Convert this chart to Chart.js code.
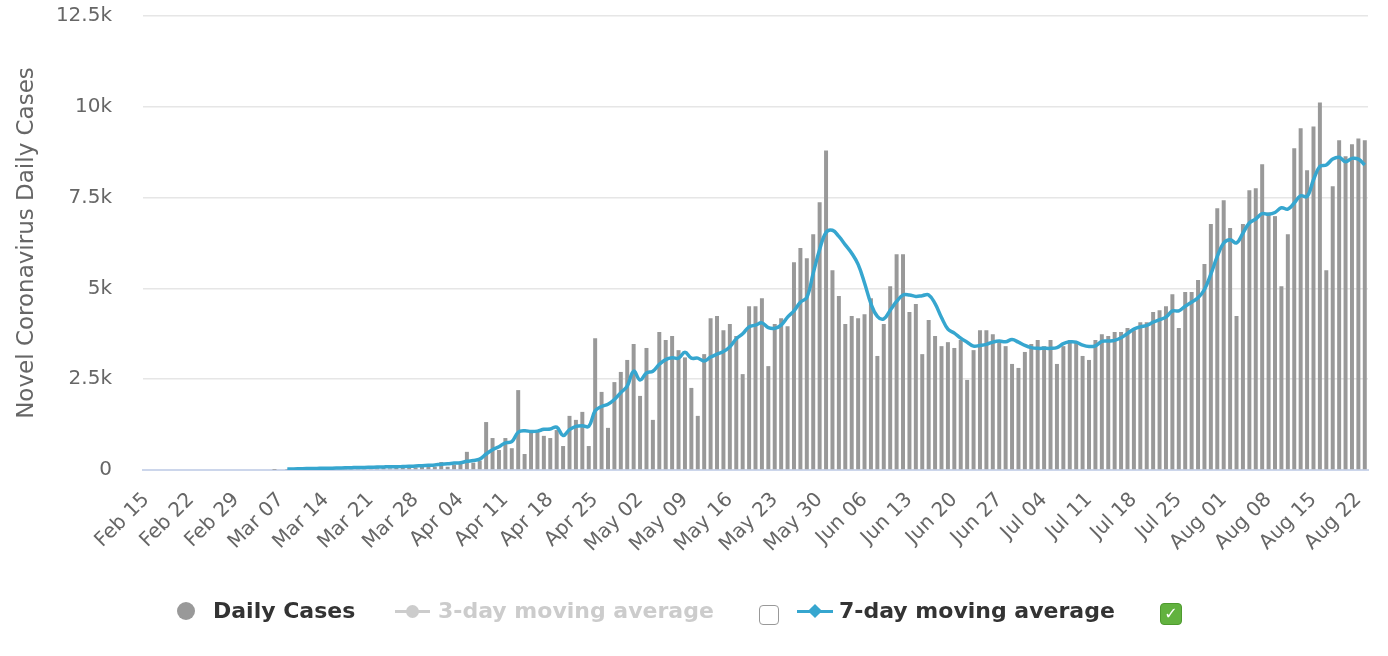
<!DOCTYPE html>
<html>
<head>
<meta charset="utf-8">
<script src="https://cdn.jsdelivr.net/npm/chart.js@4.4.1/dist/chart.umd.min.js"></script>
<style>
  body { margin: 0; background: #fff; }
  #wrap { position: relative; width: 1388px; height: 656px; }
  #chart { position: absolute; left: 0; top: 0; }
  .lg { position: absolute; font: bold 22px "DejaVu Sans", sans-serif; line-height: 26px; top: 598px; white-space: nowrap; }
  .box { position: absolute; width: 20px; height: 20px; border-radius: 4px; box-sizing: border-box; }
</style>
</head>
<body>
<div id="wrap">
  <canvas id="chart" width="1388" height="656"></canvas>
  <div id="legend"></div>
</div>
<script>
// categories: one bar per day, Feb 15 .. Aug 23
const startMonth = 1, startDay = 15, dayCount = 191;
const monthNames = ['Jan', 'Feb', 'Mar', 'Apr', 'May', 'Jun', 'Jul', 'Aug', 'Sep'];
const monthDays = [31, 29, 31, 30, 31, 30, 31, 31, 30];

// daily new cases
const dailyCases = [
  0, 0, 0, 0, 0, 0, 0, 0, 0, 0,
  0, 0, 0, 0, 0, 0, 0, 0, 0, 0,
  1, 0, 6, 2, 2, 11, 5, 9, 15, 8,
  23, 29, 31, 43, 29, 40, 50, 55, 45, 80,
  90, 65, 70, 100, 120, 90, 220, 90, 150, 180,
  500, 200, 260, 1320, 880, 550, 880, 600, 2200, 440,
  1100, 1100, 940, 880, 1100, 660, 1490, 1380, 1600, 660,
  3630, 2150, 1160, 2420, 2700, 3030, 3470, 2040, 3360, 1380,
  3800, 3580, 3690, 3300, 3100, 2260, 1490, 3190, 4180, 4240,
  3850, 4020, 3690, 2640, 4510, 4510, 4730, 2860, 4020, 4180,
  3960, 5720, 6110, 5830, 6490, 7370, 8800, 5500, 4790, 4020,
  4240, 4180, 4290, 4730, 3140, 4020, 5060, 5940, 5940, 4350,
  4570, 3190, 4130, 3690, 3410, 3520, 3360, 3580, 2480, 3300,
  3850, 3850, 3740, 3520, 3410, 2920, 2810, 3250, 3470, 3580,
  3410, 3580, 2920, 3410, 3580, 3520, 3140, 3030, 3580, 3740,
  3690, 3800, 3800, 3910, 3850, 4070, 4070, 4350, 4400, 4510,
  4840, 3910, 4900, 4900, 5230, 5670, 6770, 7210, 7430, 6660,
  4240, 6770, 7700, 7760, 8420, 7090, 6990, 5060, 6490, 8860,
  9410, 8250, 9460, 10120, 5500, 7810, 9080, 8640, 8970, 9130,
  9080
];

// 7-day moving average (starts Mar 08)
const movingAvg7 = [
  null, null, null, null, null, null, null, null, null, null,
  null, null, null, null, null, null, null, null, null, null,
  null, null, 30, 30, 35, 40, 40, 45, 50, 50,
  55, 60, 65, 70, 70, 75, 80, 85, 90, 90,
  95, 100, 110, 120, 130, 140, 160, 170, 190, 200,
  240, 260, 300, 440, 560, 640, 750, 780, 1040, 1080,
  1060, 1070, 1120, 1130, 1180, 950, 1110, 1200, 1220, 1200,
  1630, 1750, 1810, 1940, 2130, 2310, 2720, 2480, 2670, 2720,
  2910, 3040, 3090, 3080, 3240, 3080, 3080, 3000, 3110, 3190,
  3260, 3390, 3610, 3750, 3940, 3990, 4050, 3920, 3900, 3990,
  4210, 4380, 4620, 4750, 5420, 6070, 6540, 6600, 6430, 6200,
  5970, 5660, 5150, 4580, 4230, 4160, 4400, 4640, 4820, 4820,
  4780, 4800, 4820, 4580, 4200, 3880, 3770, 3630, 3520, 3410,
  3430, 3460, 3520, 3550, 3530, 3590, 3520, 3430, 3370, 3350,
  3350, 3350, 3370, 3480, 3530, 3520, 3440, 3400, 3420, 3540,
  3550, 3570, 3640, 3760, 3880, 3940, 3980, 4070, 4140, 4210,
  4380, 4380, 4510, 4620, 4740, 4970, 5390, 5880, 6250, 6340,
  6250, 6520, 6800, 6910, 7060, 7040, 7090, 7220, 7180, 7350,
  7550, 7530, 7990, 8360, 8400, 8560, 8610, 8490, 8580, 8560,
  8400
];

const yTicks = [0, 2500, 5000, 7500, 10000, 12500];
const yTickLabels = ['0', '2.5k', '5k', '7.5k', '10k', '12.5k'];

const BAR = '#999999';
const BLUE = '#36a6cf';
const FONT = '"DejaVu Sans", sans-serif';

function buildDates() {
  const out = [];
  let m = startMonth, d = startDay;
  for (let i = 0; i < dayCount; i++) {
    out.push(monthNames[m] + ' ' + String(d).padStart(2, '0'));
    d++;
    if (d > monthDays[m]) { d = 1; m++; }
  }
  return out;
}
const dates = buildDates();

new Chart(document.getElementById('chart'), {
  type: 'bar',
  data: {
    labels: dates,
    datasets: [
      {
        type: 'line',
        label: '7-day moving average',
        data: movingAvg7,
        borderColor: BLUE,
        borderWidth: 3.5,
        pointRadius: 0,
        tension: 0.4,
        fill: false,
        order: 0
      },
      {
        type: 'bar',
        label: 'Daily Cases',
        data: dailyCases,
        backgroundColor: BAR,
        barPercentage: 0.62,
        categoryPercentage: 1,
        order: 1
      }
    ]
  },
  options: {
    responsive: false,
    animation: false,
    layout: { padding: { top: 16, right: 20, left: 0, bottom: 0 } },
    plugins: { legend: { display: false }, tooltip: { enabled: false } },
    scales: {
      x: {
        grid: { display: false, drawTicks: false },
        border: { color: '#ccd6eb', width: 2 },
        ticks: {
          autoSkip: false,
          minRotation: 45,
          maxRotation: 45,
          padding: 18,
          color: '#666',
          font: { family: FONT, size: 20 },
          callback: (v, i) => (i % 7 === 0 ? dates[i] : '')
        },
        afterFit: s => {
          s.height = 186;
          s.paddingLeft = 0; s.paddingRight = 0;
        }
      },
      y: {
        min: 0,
        max: 12500,
        afterBuildTicks: s => { s.ticks = yTicks.map(v => ({ value: v })); },
        ticks: {
          padding: 31,
          color: '#666',
          font: { family: FONT, size: 20 },
          callback: v => yTickLabels[yTicks.indexOf(v)]
        },
        grid: { color: '#e6e6e6', lineWidth: 1.5, drawTicks: false },
        border: { display: false },
        title: {
          display: true,
          text: 'Novel Coronavirus Daily Cases',
          color: '#666',
          font: { family: FONT, size: 23 },
          padding: { top: 13, bottom: 0 }
        },
        afterFit: s => {
          s.width = 143;
          s.paddingTop = 0; s.paddingBottom = 0;
        }
      }
    }
  }
});

// legend row in the Highcharts style, with the two toggle boxes
const legend = document.getElementById('legend');
legend.innerHTML = `
  <div style="position:absolute;left:177px;top:602px;width:18px;height:18px;border-radius:50%;background:${BAR}"></div>
  <div class="lg" style="left:213px;color:#333">Daily Cases</div>
  <div style="position:absolute;left:395px;top:610px;width:35px;height:3px;background:#ccc"></div>
  <div style="position:absolute;left:406px;top:605px;width:13px;height:13px;border-radius:50%;background:#ccc"></div>
  <div class="lg" style="left:438px;color:#ccc">3-day moving average</div>
  <div class="box" style="left:759px;top:605px;border:1.5px solid #999;background:#fff"></div>
  <div style="position:absolute;left:797px;top:610px;width:36px;height:3px;background:${BLUE}"></div>
  <div style="position:absolute;left:810px;top:606px;width:10px;height:10px;background:${BLUE};transform:rotate(45deg)"></div>
  <div class="lg" style="left:839px;color:#333">7-day moving average</div>
  <div class="box" style="left:1160px;top:603px;width:22px;height:22px;background:#62b23f;border:1px solid #4e9a2f;color:#fff;font:bold 16px 'DejaVu Sans';text-align:center;line-height:20px">&#10003;</div>
`;
</script>
</body>
</html>
